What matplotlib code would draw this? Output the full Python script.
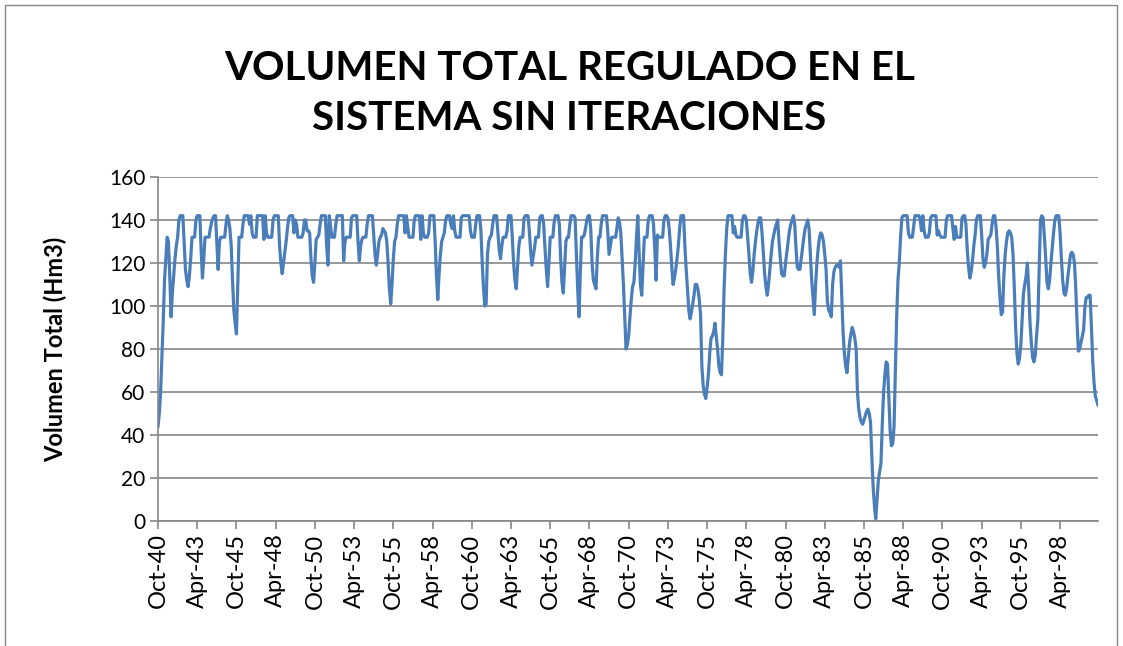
import matplotlib.pyplot as plt
from matplotlib.patches import Rectangle

plt.rcParams['font.family'] = ['Lato', 'DejaVu Sans']

# volumen mensual (Hm3), una fila por año hidrológico (Oct -> Sep), desde Oct-40
vol_anual = [
    [44, 50, 60, 76, 93, 112, 122, 132, 130, 114, 95, 106],
    [114, 122, 128, 132, 140, 142, 142, 142, 130, 117, 112, 109],
    [114, 122, 132, 132, 132, 140, 142, 142, 142, 126, 113, 122],
    [132, 132, 132, 132, 136, 139, 141, 142, 142, 130, 117, 130],
    [132, 132, 132, 132, 138, 142, 140, 136, 128, 112, 98, 92],
    [87, 110, 132, 132, 132, 138, 142, 142, 142, 142, 138, 142],
    [134, 132, 132, 132, 142, 142, 142, 142, 142, 131, 142, 134],
    [132, 132, 132, 132, 140, 142, 142, 142, 142, 128, 120, 115],
    [120, 125, 130, 136, 141, 142, 142, 142, 134, 140, 138, 132],
    [132, 132, 132, 134, 140, 140, 135, 135, 134, 122, 114, 111],
    [120, 131, 132, 133, 138, 142, 142, 142, 142, 128, 119, 142],
    [137, 132, 132, 132, 138, 142, 142, 142, 142, 142, 121, 130],
    [132, 132, 132, 132, 141, 142, 142, 142, 142, 130, 121, 128],
    [131, 132, 132, 132, 138, 142, 142, 142, 142, 133, 124, 119],
    [124, 130, 132, 133, 136, 135, 134, 130, 120, 108, 101, 110],
    [122, 130, 132, 138, 142, 142, 142, 142, 142, 134, 142, 137],
    [132, 132, 132, 132, 140, 142, 142, 142, 142, 131, 142, 134],
    [132, 132, 132, 134, 142, 142, 142, 142, 130, 114, 103, 115],
    [124, 130, 132, 134, 140, 142, 142, 142, 138, 136, 142, 135],
    [132, 132, 132, 132, 141, 142, 142, 142, 142, 142, 142, 135],
    [132, 132, 132, 138, 142, 142, 142, 135, 120, 108, 100, 101],
    [124, 130, 132, 133, 138, 142, 142, 142, 134, 126, 122, 128],
    [132, 132, 132, 135, 142, 142, 142, 132, 120, 112, 108, 118],
    [128, 132, 132, 132, 141, 142, 142, 142, 135, 126, 119, 123],
    [127, 132, 132, 132, 141, 142, 142, 138, 127, 117, 109, 120],
    [132, 132, 132, 139, 142, 142, 142, 138, 122, 111, 106, 118],
    [130, 132, 132, 138, 142, 142, 142, 141, 125, 108, 95, 115],
    [132, 132, 133, 136, 140, 142, 142, 136, 120, 112, 110, 108],
    [122, 132, 132, 138, 142, 142, 142, 142, 135, 124, 128, 132],
    [132, 132, 132, 136, 141, 139, 134, 122, 110, 95, 80, 82],
    [86, 95, 103, 109, 111, 120, 132, 142, 125, 110, 105, 118],
    [132, 132, 132, 140, 142, 142, 142, 138, 126, 112, 133, 132],
    [132, 132, 132, 140, 142, 142, 141, 136, 128, 118, 110, 113],
    [117, 122, 128, 136, 142, 142, 142, 128, 117, 108, 98, 94],
    [97, 101, 105, 110, 110, 108, 103, 96, 72, 63, 59, 57],
    [62, 68, 78, 85, 86, 88, 92, 86, 80, 72, 69, 68],
    [85, 108, 124, 136, 142, 142, 142, 142, 134, 137, 133, 132],
    [132, 132, 132, 140, 142, 142, 140, 132, 124, 115, 111, 116],
    [124, 130, 135, 139, 141, 141, 134, 125, 115, 109, 105, 110],
    [117, 124, 130, 133, 136, 138, 140, 130, 122, 115, 114, 114],
    [120, 125, 130, 135, 138, 140, 142, 138, 127, 118, 117, 117],
    [122, 127, 132, 136, 138, 140, 136, 124, 112, 104, 96, 110],
    [120, 127, 132, 134, 133, 130, 124, 117, 102, 98, 97, 95],
    [110, 116, 118, 119, 119, 118, 121, 105, 88, 78, 72, 69],
    [76, 83, 87, 90, 88, 85, 80, 60, 52, 48, 46, 45],
    [47, 49, 51, 52, 50, 46, 30, 16, 7, 1, 10, 19],
    [23, 27, 45, 60, 68, 74, 73, 58, 42, 35, 36, 44],
    [70, 95, 112, 120, 132, 141, 142, 142, 142, 142, 134, 132],
    [132, 132, 137, 142, 142, 142, 142, 140, 135, 142, 135, 132],
    [132, 132, 134, 141, 142, 142, 142, 142, 133, 135, 133, 132],
    [132, 132, 132, 140, 142, 142, 142, 142, 136, 131, 137, 132],
    [132, 132, 132, 141, 142, 142, 138, 126, 118, 113, 116, 121],
    [128, 133, 140, 142, 142, 142, 133, 122, 118, 120, 124, 131],
    [132, 133, 138, 142, 142, 137, 128, 114, 104, 96, 97, 114],
    [124, 130, 134, 135, 134, 132, 124, 108, 90, 78, 73, 76],
    [82, 94, 106, 110, 114, 120, 108, 92, 83, 76, 74, 77],
    [86, 94, 118, 140, 142, 141, 132, 122, 111, 108, 112, 120],
    [127, 134, 140, 142, 142, 142, 134, 122, 112, 106, 105, 108],
    [114, 119, 124, 125, 124, 120, 108, 92, 79, 80, 83, 86],
    [89, 100, 104, 104, 105, 105, 90, 74, 64, 58, 56, 54],
]
volumen = [v for fila in vol_anual for v in fila]

etiquetas = ["Oct-40", "Apr-43", "Oct-45", "Apr-48", "Oct-50", "Apr-53",
             "Oct-55", "Apr-58", "Oct-60", "Apr-63", "Oct-65", "Apr-68",
             "Oct-70", "Apr-73", "Oct-75", "Apr-78", "Oct-80", "Apr-83",
             "Oct-85", "Apr-88", "Oct-90", "Apr-93", "Oct-95", "Apr-98"]

gris = "#868686"

fig = plt.figure(figsize=(11.23, 6.46), dpi=100)
ax = fig.add_axes([158 / 1123, 1 - 521 / 646, 940 / 1123, 344 / 646])

ax.plot(range(len(volumen)), volumen, color="#4A7EBB", lw=2.3)

ax.set_xlim(0, len(volumen) - 1)
ax.set_ylim(0, 160)
ax.set_yticks(range(0, 161, 20))
ax.set_xticks(range(0, len(volumen), 30))
ax.set_xticklabels(etiquetas, rotation=90)
ax.grid(axis="y", color=gris, lw=1.2)
ax.set_axisbelow(True)
for s in ["top", "right"]:
    ax.spines[s].set_visible(False)
for s in ["left", "bottom"]:
    ax.spines[s].set_color(gris)
    ax.spines[s].set_linewidth(1.2)
ax.tick_params(axis="both", length=6, color=gris, width=1.2, pad=3)
ax.tick_params(axis="x", labelsize=17)
ax.tick_params(axis="y", labelsize=15)

ax.set_ylabel("Volumen Total (Hm3)", fontsize=17, fontweight="bold", labelpad=30)

fig.text(0.507, 0.855, "VOLUMEN TOTAL REGULADO EN EL\nSISTEMA SIN ITERACIONES",
         ha="center", va="center", fontsize=29, fontweight="bold", linespacing=1.45)

fig.add_artist(Rectangle((5 / 1123, -0.01), 1112 / 1123, 1 - 5 / 646 + 0.01,
                         transform=fig.transFigure, fill=False, ec=gris, lw=1))

fig.savefig("out.png", dpi=100)
